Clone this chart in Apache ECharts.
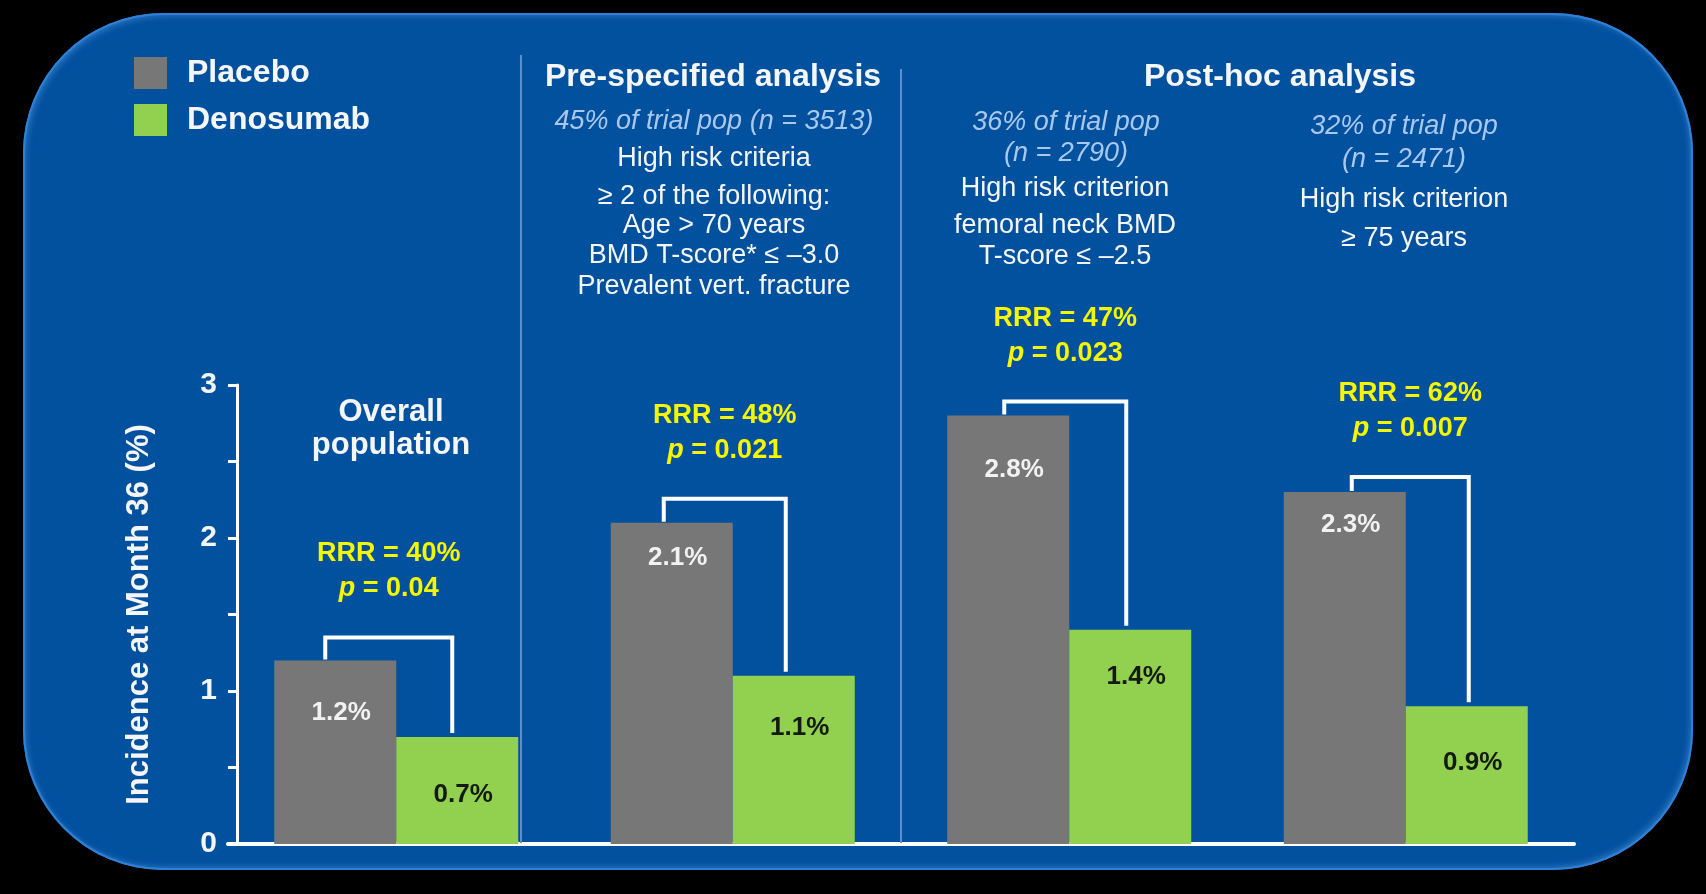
<!DOCTYPE html>
<html>
<head>
<meta charset="utf-8">
<script src="https://cdn.jsdelivr.net/npm/echarts@6/dist/echarts.min.js"></script>
<style>
  html, body { margin: 0; padding: 0; background: #000; }
  #wrap { position: relative; width: 1706px; height: 894px; background: #000; overflow: hidden; }
  #panel { position: absolute; left: 23px; top: 13px; width: 1670px; height: 857px; border-radius: 140px;
           background: #02519f; box-shadow: inset 0 0 0 2px #2f80d8, inset 3px 3px 6px rgba(120,190,255,0.35), inset -3px -3px 6px rgba(120,190,255,0.35); }
  #chart { position: absolute; left: 0; top: 0; width: 1706px; height: 894px; }
</style>
</head>
<body>
<div id="wrap"><div id="panel"></div><div id="chart"></div></div>
<script>
// ---- data ----
const categories = ['Overall population', 'Pre-specified analysis', 'Post-hoc: femoral neck BMD', 'Post-hoc: age ≥ 75'];
const placebo = [1.2, 2.1, 2.8, 2.3];
const denosumab = [0.7, 1.1, 1.4, 0.9];
const rrr = ['40%', '48%', '47%', '62%'];
const pValues = ['0.04', '0.021', '0.023', '0.007'];
const yTicks = [0, 1, 2, 3];

// ---- styling (not data) ----
const FONT = '"Liberation Sans", Arial, sans-serif';
const WHITE = '#f4f6f8';
const YELLOW = '#f6f600';
const LIGHTBLUE = '#a9c8ee';
const BAR_W = 122;
const grayLabelDrop = [39, 22, 41, 20];
const greenLabelDrop = [45, 39, 34, 44];
const bracketRise = [23, 24, 14, 15];
const bracketLeftShift = [-10, -8, -4, 7];
const bracketRightShift = [-5, -8, -4, 2];

const chart = echarts.init(document.getElementById('chart'), null, { renderer: 'canvas' });

function txt(text, x, y, opts) {
  return {
    type: 'text', x: x, y: y, z: 5,
    style: Object.assign({
      text: text, fill: WHITE, font: '27px ' + FONT, align: 'center', verticalAlign: 'middle'
    }, opts || {})
  };
}
const boldF = s => 'bold ' + s + 'px ' + FONT;
const italF = s => 'italic ' + s + 'px ' + FONT;

const graphics = [
  { type: 'line', z: 1, shape: { x1: 521, y1: 55, x2: 521, y2: 843 }, style: { stroke: '#5b8fd0', lineWidth: 2 } },
  { type: 'line', z: 1, shape: { x1: 901, y1: 69, x2: 901, y2: 843 }, style: { stroke: '#5b8fd0', lineWidth: 2 } },
  txt('Pre-specified analysis', 713, 77, { font: boldF(32) }),
  txt('45% of trial pop (n = 3513)', 714, 121, { font: italF(27), fill: LIGHTBLUE }),
  txt('High risk criteria', 714, 159),
  txt('≥ 2 of the following:', 714, 197),
  txt('Age > 70 years', 714, 226),
  txt('BMD T-score* ≤ –3.0', 714, 256),
  txt('Prevalent vert. fracture', 714, 287),
  txt('Post-hoc analysis', 1280, 77, { font: boldF(32) }),
  txt('36% of trial pop', 1066, 122, { font: italF(27), fill: LIGHTBLUE }),
  txt('(n = 2790)', 1066, 153, { font: italF(27), fill: LIGHTBLUE }),
  txt('High risk criterion', 1065, 189),
  txt('femoral neck BMD', 1065, 226),
  txt('T-score ≤ –2.5', 1065, 257),
  txt('32% of trial pop', 1404, 126, { font: italF(27), fill: LIGHTBLUE }),
  txt('(n = 2471)', 1404, 159, { font: italF(27), fill: LIGHTBLUE }),
  txt('High risk criterion', 1404, 200),
  txt('≥ 75 years', 1404, 239),
  txt('Overall', 391, 412, { font: boldF(31) }),
  txt('population', 391, 445, { font: boldF(31) })
];

const option = {
  backgroundColor: 'transparent',
  animation: false,
  textStyle: { fontFamily: FONT },
  legend: {
    data: ['Placebo', 'Denosumab'],
    orient: 'vertical', left: 129, top: 52,
    itemWidth: 33, itemHeight: 32, itemGap: 15,
    icon: 'rect',
    selectedMode: false,
    textStyle: { color: WHITE, fontSize: 32, fontWeight: 'bold', fontFamily: FONT, padding: [0, 0, 0, 15], lineHeight: 32 }
  },
  grid: { left: 228, top: 385, width: 1346, height: 459, containLabel: false },
  xAxis: {
    type: 'category', data: categories,
    axisLine: { show: true, lineStyle: { color: '#ffffff', width: 4 } },
    axisTick: { show: false }, axisLabel: { show: false }, splitLine: { show: false }
  },
  yAxis: {
    type: 'value', min: 0, max: 3, interval: 0.5, offset: -9,
    name: 'Incidence at Month 36 (%)', nameLocation: 'middle', nameRotate: 90, nameGap: 82,
    nameTextStyle: { color: WHITE, fontSize: 31, fontWeight: 'bold', fontFamily: FONT },
    axisLine: { show: true, lineStyle: { color: '#ffffff', width: 3 } },
    axisTick: { show: true, length: 9, lineStyle: { color: '#ffffff', width: 3 } },
    axisLabel: {
      color: WHITE, fontSize: 30, fontWeight: 'bold', fontFamily: FONT, margin: 20,
      formatter: v => (yTicks.indexOf(v) >= 0 ? String(v) : '')
    },
    splitLine: { show: false }
  },
  series: [
    {
      name: 'Placebo', type: 'bar', barWidth: BAR_W, barGap: '0%', z: 3,
      itemStyle: { color: '#777777' },
      data: placebo.map((v, i) => ({
        value: v,
        label: { show: true, position: 'insideTop', distance: 0, offset: [6, grayLabelDrop[i]] }
      })),
      label: { color: '#f2f2f2', fontSize: 26, fontWeight: 'bold', fontFamily: FONT, formatter: p => p.value + '%' }
    },
    {
      name: 'Denosumab', type: 'bar', barWidth: BAR_W, barGap: '0%', z: 3,
      itemStyle: { color: '#92d050' },
      data: denosumab.map((v, i) => ({
        value: v,
        label: { show: true, position: 'insideTop', distance: 0, offset: [6, greenLabelDrop[i]] }
      })),
      label: { color: '#141a10', fontSize: 26, fontWeight: 'bold', fontFamily: FONT, formatter: p => p.value + '%' }
    },
    {
      name: 'bracket', type: 'custom', z: 4, silent: true,
      encode: { x: 0, y: [1, 2] },
      data: categories.map((c, i) => [i, placebo[i], denosumab[i]]),
      renderItem: function (params, api) {
        const i = api.value(0);
        const pa = api.coord([i, api.value(1)]);
        const pb = api.coord([i, api.value(2)]);
        const xl = pa[0] - BAR_W / 2 + bracketLeftShift[i];
        const xr = pa[0] + BAR_W / 2 + bracketRightShift[i];
        const top = pa[1] - bracketRise[i];
        const rich = {
          b: { fill: YELLOW, fontSize: 27, fontWeight: 'bold', fontFamily: FONT, lineHeight: 35 },
          i: { fill: YELLOW, fontSize: 27, fontWeight: 'bold', fontStyle: 'italic', fontFamily: FONT, lineHeight: 35 }
        };
        return {
          type: 'group',
          children: [
            {
              type: 'polyline',
              shape: { points: [[xl, pa[1] - 1], [xl, top], [xr, top], [xr, pb[1] - 4]] },
              style: { stroke: '#ffffff', lineWidth: 4, fill: null, lineJoin: 'miter' }
            },
            {
              type: 'text',
              x: (xl + xr) / 2, y: top - 31,
              style: {
                text: '{b|RRR = ' + rrr[i] + '}\n{i|p}{b| = ' + pValues[i] + '}',
                rich: rich, fill: YELLOW, align: 'center', verticalAlign: 'bottom'
              }
            }
          ]
        };
      }
    }
  ],
  graphic: graphics
};
chart.setOption(option);
</script>
</body>
</html>
